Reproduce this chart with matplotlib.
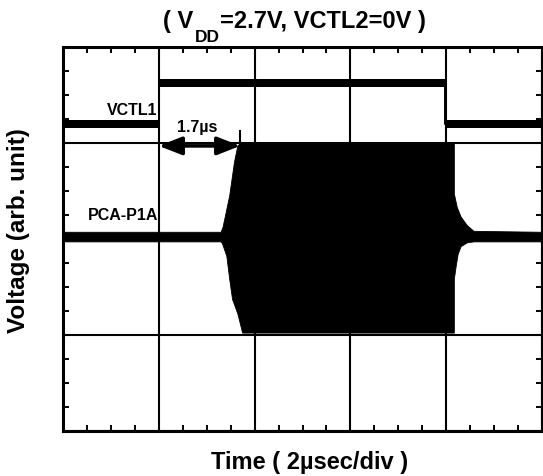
import matplotlib
matplotlib.use("Agg")
import matplotlib.pyplot as plt
from matplotlib.ticker import MultipleLocator

plt.rcParams["font.family"] = ["Liberation Sans", "DejaVu Sans"]
plt.rcParams["font.weight"] = "bold"

# Screen: 5 divisions of 2 us horizontally, 4 divisions vertically
t_max = 10.0
v_max = 4.0

# VCTL1 control step (time in us, level in divisions)
vctl_t = [0.0, 2.0, 2.0, 7.97, 7.97, 10.0]
vctl_v = [3.20, 3.20, 3.625, 3.625, 3.20, 3.20]
vctl_half = 0.042

# PCA-P1A RF burst: upper / lower envelope amplitude around the baseline
pca_base = 2.02
env_up_t = [0.0, 3.30, 3.34, 3.40, 3.48, 3.58, 3.65, 3.70, 8.17, 8.17, 8.23, 8.31, 8.44, 8.58, 10.0]
env_up_a = [0.05, 0.05, 0.10, 0.24, 0.43, 0.78, 0.95, 0.97, 0.97, 0.45, 0.31, 0.21, 0.12, 0.06, 0.05]
env_lo_t = [0.0, 3.30, 3.33, 3.42, 3.48, 3.54, 3.65, 3.75, 8.17, 8.17, 8.21, 8.25, 8.31, 8.44, 8.58, 10.0]
env_lo_a = [0.05, 0.05, 0.07, 0.20, 0.44, 0.65, 0.80, 1.00, 1.00, 0.44, 0.30, 0.18, 0.10, 0.06, 0.05, 0.05]

# switching delay marker
delay_start = 2.0
delay_us = 1.7
delay_level = 2.97

W, H = 543, 477
fig = plt.figure(figsize=(W / 100, H / 100), dpi=100)
ax = fig.add_axes([63 / W, 1 - 432 / H, (542 - 63) / W, 384 / H])
ax.set_xlim(0, t_max)
ax.set_ylim(0, v_max)

ax.xaxis.set_major_locator(MultipleLocator(2))
ax.xaxis.set_minor_locator(MultipleLocator(0.5))
ax.yaxis.set_major_locator(MultipleLocator(1))
ax.yaxis.set_minor_locator(MultipleLocator(0.25))
ax.grid(which="major", color="black", linewidth=1.5, zorder=0)
ax.set_axisbelow(True)
ax.tick_params(which="both", direction="in", top=True, right=True,
               labelbottom=False, labelleft=False)
ax.tick_params(which="major", length=0)
ax.tick_params(which="minor", length=4, width=1.4, color="black")
for sp in ax.spines.values():
    sp.set_linewidth(2.2)
    sp.set_zorder(5)

# VCTL1 trace
v_lo = [v - vctl_half for v in vctl_v]
v_hi = [v + vctl_half for v in vctl_v]
ax.fill_between(vctl_t, v_lo, v_hi, color="black", linewidth=0, zorder=3)
ax.plot(vctl_t, vctl_v, color="black", linewidth=1.4, zorder=3)

# PCA-P1A burst
xs = list(env_up_t) + list(env_lo_t[::-1])
ys = [pca_base + a for a in env_up_a] + [pca_base - a for a in env_lo_a[::-1]]
ax.fill(xs, ys, color="black", linewidth=0.6, edgecolor="black", zorder=3)

# delay arrow
ax.annotate("", xy=(delay_start + delay_us, delay_level), xytext=(delay_start, delay_level),
            arrowprops=dict(arrowstyle="<|-|>,head_length=1.4,head_width=0.55",
                            mutation_scale=10, lw=2.6, color="black",
                            shrinkA=0, shrinkB=0), zorder=4)
ax.plot([delay_start + delay_us] * 2, [2.85, 3.13], color="black", linewidth=1.5, zorder=4)
ax.text(2.80, 3.17, "1.7\u00b5s", fontsize=11.5, ha="center", va="center", zorder=4)

ax.text(1.98, 3.35, "VCTL1", fontsize=11.5, ha="right", va="center", zorder=4)
ax.text(1.98, 2.25, "PCA-P1A", fontsize=11.5, ha="right", va="center", zorder=4)

# axis titles
fig.text(310 / W, 1 - 469 / H, "Time ( 2\u00b5sec/div )", fontsize=17,
         ha="center", va="baseline")
fig.text(18.5 / W, 1 - 231 / H, "Voltage (arb. unit)", fontsize=17.5,
         rotation=90, ha="center", va="center")

# heading with subscript
renderer = fig.canvas.get_renderer()
base_y = 1 - 28 / H
t1 = fig.text(163 / W, base_y, "( V", fontsize=17, ha="left", va="baseline")
b1 = t1.get_window_extent(renderer)
t2 = fig.text(b1.x1 / W + 1.5 / W, 1 - 42 / H, "DD", fontsize=12.5, ha="left", va="baseline")
b2 = t2.get_window_extent(renderer)
fig.text(b2.x1 / W, base_y, "=2.7V, VCTL2=0V )", fontsize=17, ha="left", va="baseline")

fig.savefig("out.png", dpi=100)
